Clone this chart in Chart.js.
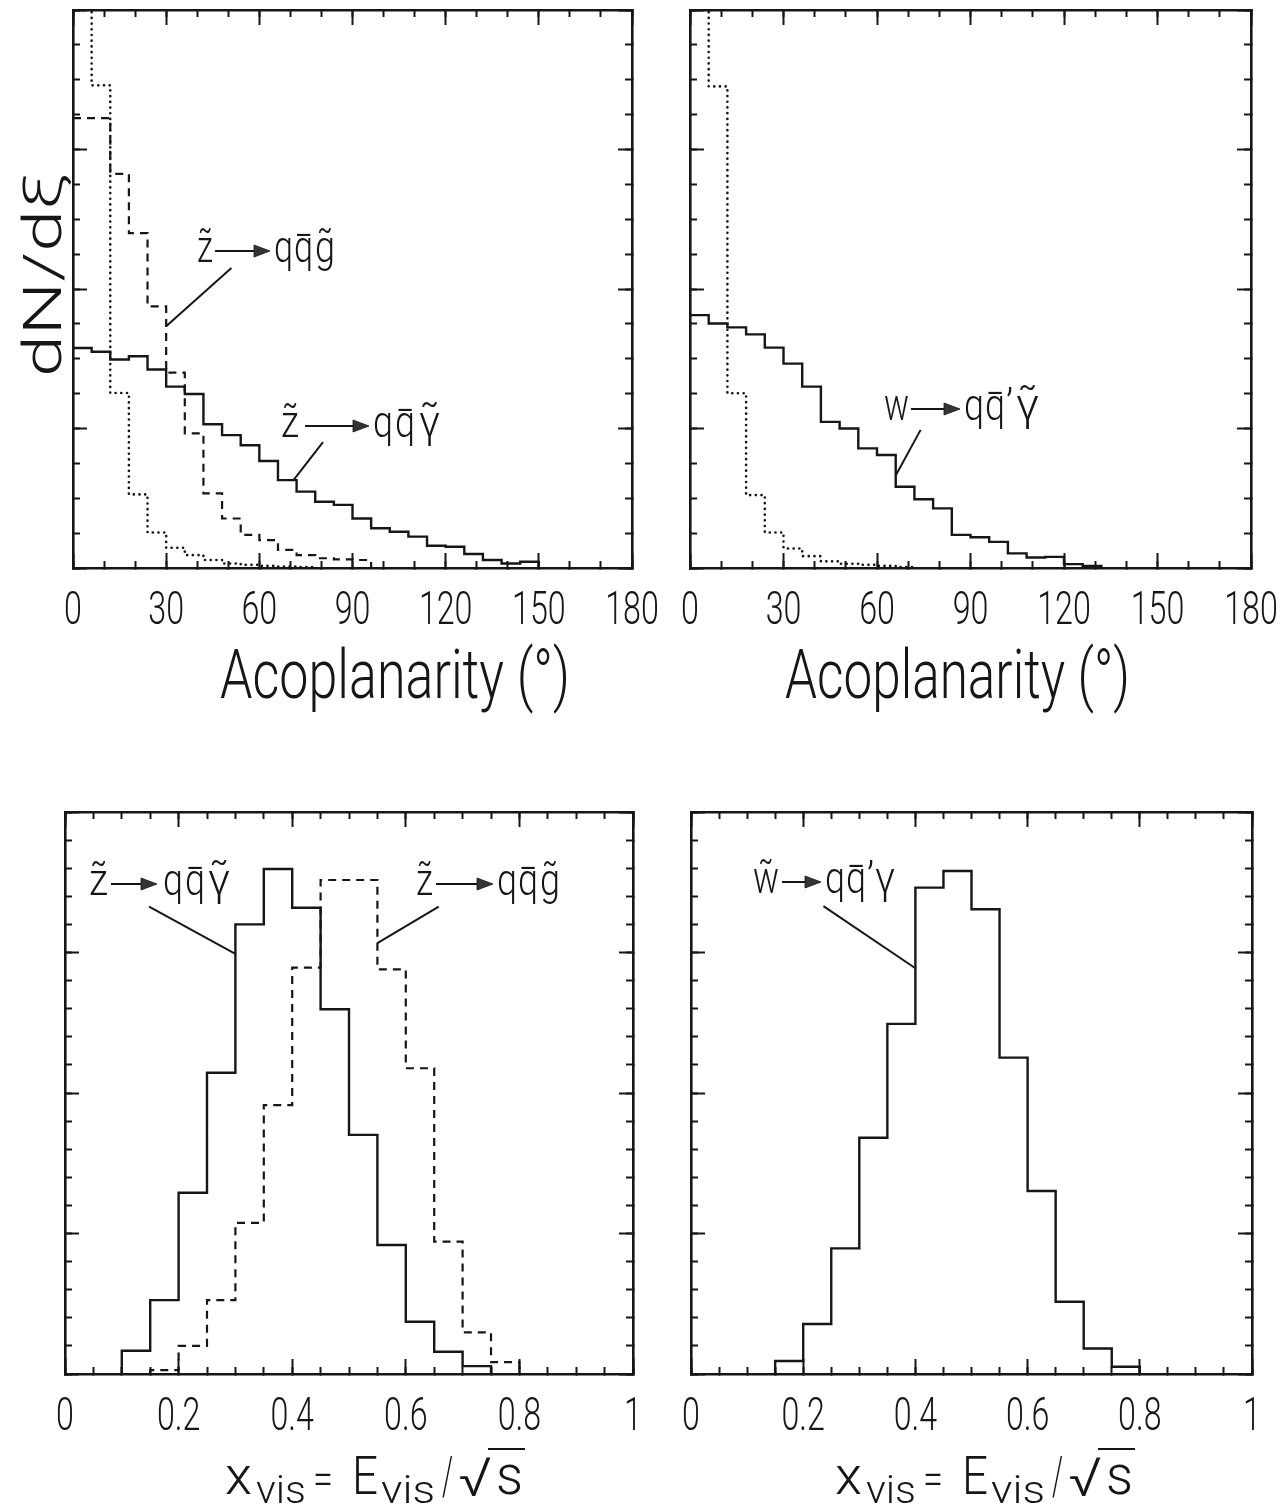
<!DOCTYPE html>
<html lang="en">
<head>
<meta charset="utf-8">
<title>Acoplanarity and visible energy distributions</title>
<script src="https://cdn.jsdelivr.net/npm/chart.js@4.4.1/dist/chart.umd.min.js"></script>
<style>
  html, body { margin: 0; padding: 0; background: #fff; }
  #page { position: relative; width: 1280px; height: 1506px; overflow: hidden; background: #fff; }
  #page canvas { position: absolute; }
  #labels { position: absolute; left: 0; top: 0; pointer-events: none; }
  #labels text { font-family: Roboto, "Liberation Sans", "DejaVu Sans", sans-serif; font-weight: 300; fill: #161616; }
  #labels path.lead { stroke: #161616; stroke-width: 2; fill: none; }
  #labels path.head { fill: #333; stroke: #161616; stroke-width: 0.8; }
</style>
</head>
<body>
<div id="page">
  <canvas id="tl"></canvas>
  <canvas id="tr"></canvas>
  <canvas id="bl"></canvas>
  <canvas id="br"></canvas>
  <svg id="labels" width="1280" height="1506" xmlns="http://www.w3.org/2000/svg"></svg>
</div>
<script>
// ---------- data ----------
// Acoplanarity histograms: 6 degree bins starting at 0 degrees.
const acopBinWidth = 6;
const acopTicksMinor = 10, acopTicksMajor = 30;
// left panel
const zToQQGammaAcop = [6.31, 6.20, 5.98, 6.07, 5.69, 5.20, 4.99, 4.12, 3.81, 3.52, 3.07, 2.52, 2.19,
                        1.90, 1.81, 1.42, 1.14, 1.04, 0.90, 0.64, 0.61, 0.40, 0.23, 0.13, 0.18];
const zToQQGluinoAcop = [12.9, 12.9, 11.3, 9.6, 7.5, 5.6, 3.86, 2.14, 1.42, 0.95, 0.80, 0.52, 0.37,
                         0.28, 0.25, 0.23];
const backgroundAcopLeft = [19, 13.84, 5.02, 2.11, 1.02, 0.58, 0.37, 0.23, 0.13, 0.09, 0.06, 0.04, 0.03];
// right panel
const wToQQGammaAcop = [7.25, 7.01, 6.90, 6.70, 6.32, 5.86, 5.20, 4.19, 4.00, 3.43, 3.24, 2.33, 1.97,
                        1.71, 0.95, 0.88, 0.75, 0.42, 0.30, 0.32, 0.11, 0.06];
const backgroundAcopRight = [19, 13.81, 5.01, 2.09, 1.02, 0.56, 0.34, 0.19, 0.12, 0.09, 0.06, 0.03];

// Visible energy fraction histograms: 0.05 bins, each list begins at its first filled bin.
const xvisBinWidth = 0.05;
const zToQQGammaXvisStart = 0.10;
const zToQQGammaXvis = [0.83, 2.63, 6.45, 10.72, 16.00, 17.97, 16.59, 12.98, 8.51, 4.59, 1.86, 0.79, 0.28];
const zToQQGluinoXvisStart = 0.15;
const zToQQGluinoXvis = [0.14, 1.00, 2.63, 5.38, 9.57, 14.46, 17.58, 17.58, 14.40, 10.88, 4.71, 1.48, 0.42];
const wToQQGammaXvisStart = 0.15;
const wToQQGammaXvis = [0.46, 1.78, 4.47, 8.41, 12.46, 17.31, 17.90, 16.54, 11.26, 6.51, 2.57, 0.91, 0.26];

// Axis tick labels
const acopLabels = ['0', '30', '60', '90', '120', '150', '180'];
const xvisLabels = ['0', '0.2', '0.4', '0.6', '0.8', '1'];

// ---------- drawing ----------
const INK = '#161616';
const FONT = 'Roboto, "Liberation Sans", "DejaVu Sans", sans-serif';

// Outline of a histogram as corner points (left edge, value) -> (right edge, value)
function histogramOutline(start, width, values) {
  const pts = [];
  if (start > 0) pts.push({ x: start, y: 0 });
  values.forEach((v, i) => {
    const a = +(start + i * width).toFixed(6);
    const b = +(start + (i + 1) * width).toFixed(6);
    pts.push({ x: a, y: v }, { x: b, y: v });
  });
  pts.push({ x: +(start + values.length * width).toFixed(6), y: 0 });
  return pts;
}

const STYLES = {
  solid: { borderWidth: 2.4, borderDash: [], borderCapStyle: 'butt' },
  dashed: { borderWidth: 2.2, borderDash: [8, 6], borderCapStyle: 'butt' },
  dotted: { borderWidth: 2.6, borderDash: [0.1, 5.6], borderCapStyle: 'round' }
};

function series(points, style) {
  return Object.assign({ data: points, borderColor: INK, fill: false, pointRadius: 0, tension: 0,
                         xAxisID: 'x', yAxisID: 'y', borderJoinStyle: 'miter' }, STYLES[style]);
}

// tick-only axis: ticks point into the plot, no labels, no space taken
function frameAxis(position, min, max, step, length, border, weight) {
  return {
    type: 'linear', position, min, max, weight,
    ticks: { display: false, stepSize: step },
    grid: { display: true, drawOnChartArea: false, drawTicks: true, tickLength: -length, tickWidth: 2, tickColor: INK },
    border: { display: border, color: INK, width: 2.6 },
    afterFit(scale) { if (scale.isHorizontal()) scale.height = 0; else scale.width = 0; }
  };
}

// pointer lines from the process labels to their histograms, in data units
const leaderLines = {
  id: 'leaderLines',
  afterDatasetsDraw(chart, args, opts) {
    const { ctx } = chart;
    const xs = chart.scales.x, ys = chart.scales.y;
    ctx.save();
    ctx.strokeStyle = INK;
    ctx.lineWidth = 2;
    (opts.lines || []).forEach(([x1, y1, x2, y2]) => {
      ctx.beginPath();
      ctx.moveTo(xs.getPixelForValue(x1), ys.getPixelForValue(y1));
      ctx.lineTo(xs.getPixelForValue(x2), ys.getPixelForValue(y2));
      ctx.stroke();
    });
    ctx.restore();
  }
};

// tall, narrow tick numerals under the x axis, one per generated tick
const narrowTickLabels = {
  id: 'narrowTickLabels',
  afterDraw(chart, args, opts) {
    const s = chart.scales.x, ctx = chart.ctx;
    ctx.save();
    ctx.fillStyle = INK;
    ctx.font = '300 ' + opts.size + 'px ' + FONT;
    ctx.textAlign = 'center';
    ctx.textBaseline = 'alphabetic';
    s.ticks.forEach((t, i) => {
      const label = opts.labels[i];
      if (label === undefined) return;
      ctx.save();
      ctx.translate(s.getPixelForValue(t.value), s.top + opts.offset);
      ctx.scale(opts.squeeze, 1);
      ctx.fillText(label, 0, 0);
      ctx.restore();
    });
    ctx.restore();
  }
};

const PAD = { left: 40, right: 40, top: 10, bottom: 70 };

function panel(id, box, cfg) {
  const canvas = document.getElementById(id);
  const w = box.right - box.left + PAD.left + PAD.right;
  const h = box.bottom - box.top + PAD.top + PAD.bottom;
  canvas.width = w; canvas.height = h;
  canvas.style.width = w + 'px'; canvas.style.height = h + 'px';
  canvas.style.left = (box.left - PAD.left) + 'px';
  canvas.style.top = (box.top - PAD.top) + 'px';

  const labelStep = (cfg.xmax - cfg.xmin) / (cfg.labels.length - 1);
  return new Chart(canvas, {
    type: 'line',
    data: { datasets: cfg.datasets },
    plugins: [leaderLines, narrowTickLabels],
    options: {
      responsive: false, animation: false, devicePixelRatio: 1, events: [],
      layout: { padding: { left: PAD.left, right: PAD.right, top: PAD.top, bottom: 0 } },
      plugins: {
        legend: { display: false }, tooltip: { enabled: false },
        leaderLines: { lines: cfg.leaders },
        narrowTickLabels: { labels: cfg.labels, size: 46, squeeze: 0.7, offset: 56 }
      },
      scales: {
        x: {
          type: 'linear', position: 'bottom', min: cfg.xmin, max: cfg.xmax, weight: 5,
          ticks: { display: false, stepSize: labelStep },
          grid: { display: false, drawTicks: false },
          border: { display: false },
          afterFit(scale) { scale.height = PAD.bottom; }
        },
        xMinorB: frameAxis('bottom', cfg.xmin, cfg.xmax, cfg.xminor, 7, true, 0),
        xMajorB: frameAxis('bottom', cfg.xmin, cfg.xmax, cfg.xmajor, 15, false, 1),
        xMinorT: frameAxis('top', cfg.xmin, cfg.xmax, cfg.xminor, 7, true, 0),
        xMajorT: frameAxis('top', cfg.xmin, cfg.xmax, cfg.xmajor, 15, false, 1),
        y: frameAxis('left', 0, cfg.ymax, 1, 7, true, 0),
        yMajorL: frameAxis('left', 0, cfg.ymax, cfg.ymajor, 14, false, 1),
        yMinorR: frameAxis('right', 0, cfg.ymax, 1, 7, true, 0),
        yMajorR: frameAxis('right', 0, cfg.ymax, cfg.ymajor, 14, false, 1)
      }
    }
  });
}

panel('tl', { left: 73, right: 632, top: 10, bottom: 568 }, {
  xmin: 0, xmax: 180, xminor: acopTicksMinor, xmajor: acopTicksMajor, labels: acopLabels,
  ymax: 16, ymajor: 4,
  datasets: [
    series(histogramOutline(0, acopBinWidth, backgroundAcopLeft), 'dotted'),
    series(histogramOutline(0, acopBinWidth, zToQQGluinoAcop), 'dashed'),
    series(histogramOutline(0, acopBinWidth, zToQQGammaAcop), 'solid')
  ],
  leaders: [[51, 8.6, 30, 6.93], [80.5, 3.61, 71, 2.52]]
});

panel('tr', { left: 690, right: 1251, top: 10, bottom: 568 }, {
  xmin: 0, xmax: 180, xminor: acopTicksMinor, xmajor: acopTicksMajor, labels: acopLabels,
  ymax: 16, ymajor: 4,
  datasets: [
    series(histogramOutline(0, acopBinWidth, backgroundAcopRight), 'dotted'),
    series(histogramOutline(0, acopBinWidth, wToQQGammaAcop), 'solid')
  ],
  leaders: [[74, 3.96, 66, 2.65]]
});

panel('bl', { left: 65, right: 633, top: 812, bottom: 1374 }, {
  xmin: 0, xmax: 1, xminor: xvisBinWidth, xmajor: 0.2, labels: xvisLabels,
  ymax: 20, ymajor: 5,
  datasets: [
    series(histogramOutline(zToQQGluinoXvisStart, xvisBinWidth, zToQQGluinoXvis), 'dashed'),
    series(histogramOutline(zToQQGammaXvisStart, xvisBinWidth, zToQQGammaXvis), 'solid')
  ],
  leaders: [[0.148, 16.63, 0.30, 14.95], [0.658, 16.63, 0.55, 15.33]]
});

panel('br', { left: 691, right: 1252, top: 812, bottom: 1374 }, {
  xmin: 0, xmax: 1, xminor: xvisBinWidth, xmajor: 0.2, labels: xvisLabels,
  ymax: 20, ymajor: 5,
  datasets: [
    series(histogramOutline(wToQQGammaXvisStart, xvisBinWidth, wToQQGammaXvis), 'solid')
  ],
  leaders: [[0.236, 16.65, 0.40, 14.44]]
});

// ---------- titles and process labels ----------
const svg = document.getElementById('labels');
const NS = 'http://www.w3.org/2000/svg';

function text(str, x, y, size, opts = {}) {
  const t = document.createElementNS(NS, 'text');
  t.setAttribute('x', x);
  t.setAttribute('y', y);
  t.setAttribute('font-size', size);
  if (opts.width) {
    t.setAttribute('textLength', opts.width);
    t.setAttribute('lengthAdjust', opts.adjust || 'spacingAndGlyphs');
  }
  if (opts.anchor) t.setAttribute('text-anchor', opts.anchor);
  if (opts.transform) t.setAttribute('transform', opts.transform);
  t.textContent = str;
  svg.appendChild(t);
  return t;
}

function path(d, cls) {
  const p = document.createElementNS(NS, 'path');
  p.setAttribute('d', d);
  p.setAttribute('class', cls);
  svg.appendChild(p);
}

function arrow(x1, x2, y) {
  path(`M${x1} ${y} H${x2 - 12}`, 'lead');
  path(`M${x2 - 16} ${y - 6} L${x2} ${y} L${x2 - 16} ${y + 6} Z`, 'head');
}

const TILDE = '\u02DC', BAR = '\u00AF';
// one glyph, optionally with an accent set above its centre
function glyph(ch, x, y, size, width, accent) {
  text(ch, x, y, size, { width });
  if (accent) text(accent, x + width / 2, y + (accent === BAR ? 3 : -2), size, { anchor: 'middle' });
}

// vertical axis title
text('dN/dξ', 0, 0, 54, { width: 204, anchor: 'middle', transform: 'translate(61,275) rotate(-90)' });

// horizontal axis titles
text('Acoplanarity (°)', 220, 698, 68, { width: 350 });
text('Acoplanarity (°)', 785, 698, 68, { width: 345 });

function xvisTitle(ox) {
  text('x', ox + 225, 1494, 54, { width: 27 });
  text('vis', ox + 256, 1503, 38, { width: 50 });
  text('=', ox + 313, 1494, 44, { width: 20 });
  text('E', ox + 352, 1494, 54, { width: 26 });
  text('vis', ox + 381, 1503, 38, { width: 54 });
  text('/', ox + 442, 1494, 54, { width: 11 });
  text('√', ox + 458, 1496, 54, { width: 34 });
  text('s', ox + 496, 1494, 56, { width: 27 });
  path(`M${ox + 488} 1449 H${ox + 525}`, 'lead');
}
xvisTitle(0);
xvisTitle(610);

// process labels
const AS = 44;
// top left
text('z̃', 197, 262, AS, { width: 16 });
arrow(215, 270, 251);
glyph('q', 274, 262, AS, 19);
glyph('q', 294, 262, AS, 19, BAR);
text('g̃', 315, 262, AS, { width: 20 });

text('z̃', 281, 437, AS, { width: 18 });
arrow(305, 369, 426);
glyph('q', 373, 437, AS, 20);
glyph('q', 395, 437, AS, 20, BAR);
glyph('γ', 419, 437, AS, 21, TILDE);

// top right
text('w', 884, 420, AS, { width: 25 });
arrow(911, 960, 409);
glyph('q', 964, 420, AS, 20);
glyph('q', 985, 420, AS, 20, BAR);
text('’', 1006, 420, AS, { width: 7 });
glyph('γ', 1016, 420, AS, 23, TILDE);

// bottom left
text('z̃', 89, 895, AS, { width: 19 });
arrow(111, 157, 884);
glyph('q', 163, 895, AS, 20);
glyph('q', 185, 895, AS, 20, BAR);
glyph('γ', 208, 895, AS, 22, TILDE);

text('z̃', 416, 895, AS, { width: 17 });
arrow(436, 493, 884);
glyph('q', 497, 895, AS, 20);
glyph('q', 518, 895, AS, 20, BAR);
text('g̃', 540, 895, AS, { width: 20 });

// bottom right
text('w̃', 753, 893, AS, { width: 26 });
arrow(782, 821, 882);
glyph('q', 825, 893, AS, 20);
glyph('q', 846, 893, AS, 20, BAR);
text('’', 867, 893, AS, { width: 7 });
glyph('γ', 875, 893, AS, 20);
</script>
</body>
</html>
